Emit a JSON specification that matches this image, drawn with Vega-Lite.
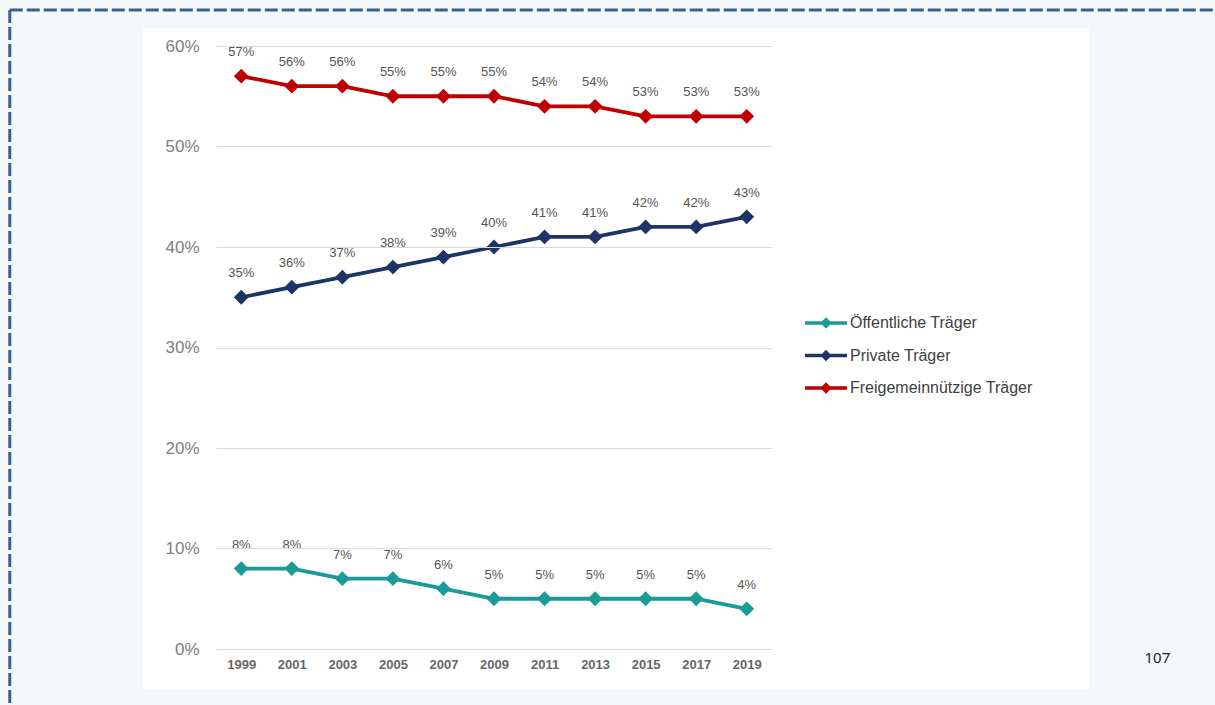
{
  "$schema": "https://vega.github.io/schema/vega-lite/v6.json",
  "width": 556,
  "height": 603,
  "autosize": {"type": "none"},
  "padding": {"left": 216, "top": 46, "right": 443, "bottom": 56},
  "background": "#f4f8fb",
  "config": {
    "view": {"stroke": null, "fill": "#ffffff"},
    "font": "Liberation Sans"
  },
  "data": {
    "values": [
      {"year": 1999, "group": "Öffentliche Träger", "share": 0.08},
      {"year": 2001, "group": "Öffentliche Träger", "share": 0.08},
      {"year": 2003, "group": "Öffentliche Träger", "share": 0.07},
      {"year": 2005, "group": "Öffentliche Träger", "share": 0.07},
      {"year": 2007, "group": "Öffentliche Träger", "share": 0.06},
      {"year": 2009, "group": "Öffentliche Träger", "share": 0.05},
      {"year": 2011, "group": "Öffentliche Träger", "share": 0.05},
      {"year": 2013, "group": "Öffentliche Träger", "share": 0.05},
      {"year": 2015, "group": "Öffentliche Träger", "share": 0.05},
      {"year": 2017, "group": "Öffentliche Träger", "share": 0.05},
      {"year": 2019, "group": "Öffentliche Träger", "share": 0.04},
      {"year": 1999, "group": "Private Träger", "share": 0.35},
      {"year": 2001, "group": "Private Träger", "share": 0.36},
      {"year": 2003, "group": "Private Träger", "share": 0.37},
      {"year": 2005, "group": "Private Träger", "share": 0.38},
      {"year": 2007, "group": "Private Träger", "share": 0.39},
      {"year": 2009, "group": "Private Träger", "share": 0.40},
      {"year": 2011, "group": "Private Träger", "share": 0.41},
      {"year": 2013, "group": "Private Träger", "share": 0.41},
      {"year": 2015, "group": "Private Träger", "share": 0.42},
      {"year": 2017, "group": "Private Träger", "share": 0.42},
      {"year": 2019, "group": "Private Träger", "share": 0.43},
      {"year": 1999, "group": "Freigemeinnützige Träger", "share": 0.57},
      {"year": 2001, "group": "Freigemeinnützige Träger", "share": 0.56},
      {"year": 2003, "group": "Freigemeinnützige Träger", "share": 0.56},
      {"year": 2005, "group": "Freigemeinnützige Träger", "share": 0.55},
      {"year": 2007, "group": "Freigemeinnützige Träger", "share": 0.55},
      {"year": 2009, "group": "Freigemeinnützige Träger", "share": 0.55},
      {"year": 2011, "group": "Freigemeinnützige Träger", "share": 0.54},
      {"year": 2013, "group": "Freigemeinnützige Träger", "share": 0.54},
      {"year": 2015, "group": "Freigemeinnützige Träger", "share": 0.53},
      {"year": 2017, "group": "Freigemeinnützige Träger", "share": 0.53},
      {"year": 2019, "group": "Freigemeinnützige Träger", "share": 0.53}
    ]
  },
  "layer": [
    {
      "data": {"values": [{}]},
      "mark": {"type": "rect", "fill": "#ffffff"},
      "encoding": {
        "x": {"datum": 1995.11, "type": "quantitative", "scale": {"domain": [1998, 2020]}, "title": null},
        "x2": {"datum": 1998},
        "y": {"datum": -0.0408, "type": "quantitative", "scale": {"domain": [0, 0.6], "nice": false}, "title": null},
        "y2": {"datum": 0.6179}
      }
    },
    {
      "data": {"values": [{}]},
      "mark": {"type": "rect", "fill": "#ffffff"},
      "encoding": {
        "x": {"datum": 2020, "type": "quantitative", "scale": {"domain": [1998, 2020]}, "title": null},
        "x2": {"datum": 2032.54},
        "y": {"datum": -0.0408, "type": "quantitative", "scale": {"domain": [0, 0.6], "nice": false}, "title": null},
        "y2": {"datum": 0.6179}
      }
    },
    {
      "data": {"values": [{}]},
      "mark": {"type": "rect", "fill": "#ffffff"},
      "encoding": {
        "x": {"datum": 1998, "type": "quantitative", "scale": {"domain": [1998, 2020]}, "title": null},
        "x2": {"datum": 2020},
        "y": {"datum": 0.6, "type": "quantitative", "scale": {"domain": [0, 0.6], "nice": false}, "title": null},
        "y2": {"datum": 0.6179}
      }
    },
    {
      "data": {"values": [{}]},
      "mark": {"type": "rect", "fill": "#ffffff"},
      "encoding": {
        "x": {"datum": 1998, "type": "quantitative", "scale": {"domain": [1998, 2020]}, "title": null},
        "x2": {"datum": 2020},
        "y": {"datum": -0.0408, "type": "quantitative", "scale": {"domain": [0, 0.6], "nice": false}, "title": null},
        "y2": {"datum": -0.001}
      }
    },
    {
      "data": {"values": [{}]},
      "mark": {"type": "rule", "stroke": "#3b5f8e", "strokeWidth": 3, "strokeDash": [13, 4]},
      "encoding": {
        "x": {"datum": 1989.84, "type": "quantitative", "scale": {"domain": [1998, 2020]}, "title": null},
        "x2": {"datum": 2060},
        "y": {"datum": 0.6358, "type": "quantitative", "scale": {"domain": [0, 0.6], "nice": false}, "title": null}
      }
    },
    {
      "data": {"values": [{}]},
      "mark": {"type": "rule", "stroke": "#3b5f8e", "strokeWidth": 3, "strokeDash": [13, 4]},
      "encoding": {
        "x": {"datum": 1989.84, "type": "quantitative", "scale": {"domain": [1998, 2020]}, "title": null},
        "y": {"datum": 0.6358, "type": "quantitative", "scale": {"domain": [0, 0.6], "nice": false}, "title": null},
        "y2": {"datum": -0.2}
      }
    },
    {
      "mark": {"type": "line", "strokeWidth": 3.8, "point": {"shape": "diamond", "filled": true, "size": 220, "opacity": 1}},
      "encoding": {
        "x": {
          "field": "year", "type": "quantitative",
          "scale": {"domain": [1998, 2020]},
          "title": null,
          "axis": {
            "values": [1999, 2001, 2003, 2005, 2007, 2009, 2011, 2013, 2015, 2017, 2019],
            "format": "d", "grid": false, "domain": false, "ticks": false, "zindex": 1,
            "labelFontSize": 13, "labelFontWeight": "bold", "labelColor": "#666666", "labelPadding": 9
          }
        },
        "y": {
          "field": "share", "type": "quantitative",
          "scale": {"domain": [0, 0.6], "nice": false},
          "title": null,
          "axis": {
            "values": [0, 0.1, 0.2, 0.3, 0.4, 0.5, 0.6],
            "format": ".0%", "domain": false, "ticks": false, "zindex": 1, "grid": true,
            "gridColor": "#d9d9d9", "gridWidth": 1,
            "labelFontSize": 17, "labelColor": "#808080", "labelPadding": 17
          }
        },
        "color": {
          "field": "group", "type": "nominal",
          "scale": {
            "domain": ["Öffentliche Träger", "Private Träger", "Freigemeinnützige Träger"],
            "range": ["#1a9a98", "#1f3466", "#c00000"]
          },
          "legend": {
            "orient": "none", "legendX": 589, "legendY": 256,
            "title": null, "labelFontSize": 16, "labelColor": "#404040", "labelLimit": 400,
            "symbolType": "M-1,-0.08H1V0.08H-1Z M0,-0.27L0.27,0L0,0.27L-0.27,0Z",
            "symbolSize": 1764, "symbolStrokeWidth": 0, "labelOffset": 3, "rowPadding": 3.5,
            "encode": {"symbols": {"update": {"fill": {"scale": "color", "field": "value"}, "strokeWidth": {"value": 0}, "opacity": {"value": 1}}}}
          }
        }
      }
    },
    {
      "mark": {"type": "text", "dy": -24, "fontSize": 13, "color": "#555555"},
      "encoding": {
        "x": {"field": "year", "type": "quantitative", "scale": {"domain": [1998, 2020]}, "title": null},
        "y": {"field": "share", "type": "quantitative", "scale": {"domain": [0, 0.6], "nice": false}, "title": null},
        "text": {"field": "share", "type": "quantitative", "format": ".0%"}
      }
    },
    {
      "data": {"values": [{"page": "107"}]},
      "mark": {"type": "text", "font": "Noto Sans", "fontSize": 15, "color": "#222222"},
      "encoding": {
        "x": {"datum": 2035.25, "type": "quantitative", "scale": {"domain": [1998, 2020]}, "title": null},
        "y": {"datum": -0.009, "type": "quantitative", "scale": {"domain": [0, 0.6], "nice": false}, "title": null},
        "text": {"field": "page", "type": "nominal"}
      }
    }
  ]
}
